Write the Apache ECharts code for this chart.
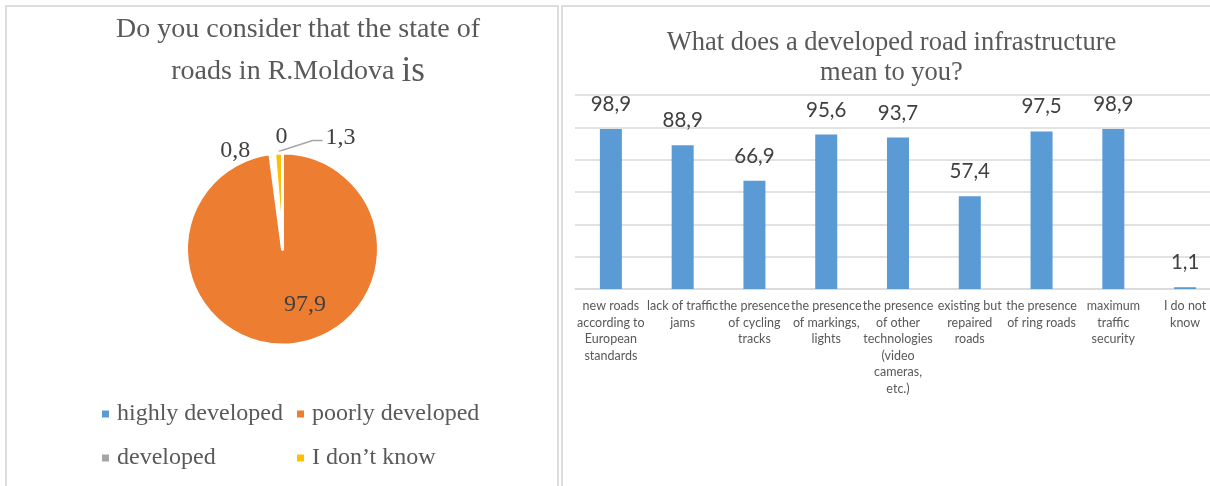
<!DOCTYPE html>
<html>
<head>
<meta charset="utf-8">
<script src="https://cdn.jsdelivr.net/npm/echarts@6/dist/echarts.min.js"></script>
<style>
  html, body { margin: 0; padding: 0; width: 1210px; height: 486px; overflow: hidden; background: #fff; }
  .panel { position: absolute; border: 2px solid #dedede; box-sizing: border-box; }
  #leftBox { left: 5px; top: 5px; width: 554px; height: 520px; }
  #rightBox { left: 561px; top: 5px; width: 700px; height: 520px; }
  #pie { position: absolute; left: 0; top: 0; width: 560px; height: 486px; }
  #bars { position: absolute; left: 560px; top: 0; width: 670px; height: 486px; }
</style>
</head>
<body>
<div class="panel" id="leftBox"></div>
<div class="panel" id="rightBox"></div>
<div id="pie"></div>
<div id="bars"></div>
<script>
// pie: state of roads
var pieNames = ['highly developed', 'poorly developed', 'developed', 'I don\u2019t know'];
var pieValues = [0.8, 97.9, 0, 1.3];
var pieColors = ['#ffffff', '#ed7d31', '#a5a5a5', '#ffc000'];
var legendColors = ['#5b9bd5', '#ed7d31', '#a5a5a5', '#ffc000'];

// bars: what a developed road infrastructure means
var barNames = [
    'new roads\naccording to\nEuropean\nstandards',
    'lack of traffic\njams',
    'the presence\nof cycling\ntracks',
    'the presence\nof markings,\nlights',
    'the presence\nof other\ntechnologies\n(video\ncameras,\netc.)',
    'existing but\nrepaired\nroads',
    'the presence\nof ring roads',
    'maximum\ntraffic\nsecurity',
    'I do not\nknow'
];
var barValues = [98.9, 88.9, 66.9, 95.6, 93.7, 57.4, 97.5, 98.9, 1.1];
var yMin = 0, yMax = 120, yStep = 20;

function comma(v) {
    return String(v).replace('.', ',');
}

var serif = 'Liberation Serif';
var sans = 'Lato';

// ---------- left chart ----------
var myChart1 = echarts.init(document.getElementById('pie'));

var pieData = [];
for (var i = 0; i < pieNames.length; i++) {
    var item = { name: pieNames[i], value: pieValues[i], itemStyle: { color: pieColors[i] } };
    if (i == 1) {
        item.label = { position: 'inside' };
    }
    if (i == 3) {
        item.labelLine = { show: true };
    }
    pieData.push(item);
}

var option1 = {
    animation: false,
    title: {
        text: 'Do you consider that the state of\nroads in R.Moldova {big|is}',
        left: 298,
        top: 10,
        textAlign: 'center',
        padding: 0,
        textStyle: {
            fontFamily: serif,
            fontSize: 28,
            fontWeight: 'normal',
            color: '#595959',
            lineHeight: 40,
            rich: {
                big: { fontFamily: serif, fontSize: 35, lineHeight: 44, color: '#595959' }
            }
        }
    },
    legend: {
        left: 102,
        top: 399,
        width: 400,
        padding: 0,
        icon: 'rect',
        itemWidth: 7,
        itemHeight: 7,
        itemGap: 14,
        itemStyle: { borderWidth: 0 },
        textStyle: {
            fontFamily: serif,
            fontSize: 24,
            color: '#595959',
            width: 166,
            lineHeight: 30,
            padding: [0, 0, 0, 3]
        },
        data: pieNames.map(function (n, k) {
            return { name: n, itemStyle: { color: legendColors[k] } };
        })
    },
    series: [{
        type: 'pie',
        center: [282.5, 249],
        radius: 96,
        startAngle: 94.7, // last slice ends at 12 o'clock
        clockwise: false,
        avoidLabelOverlap: false,
        itemStyle: { borderColor: '#ffffff', borderWidth: 3 },
        label: {
            show: true,
            position: 'outside',
            formatter: function (p) { return comma(p.value); },
            fontFamily: serif,
            fontSize: 24,
            color: '#404040'
        },
        labelLine: {
            show: false,
            lineStyle: { color: '#a6a6a6', width: 1.5 }
        },
        labelLayout: function (p) {
            var r = p.rect;
            var midX = r.x + r.width / 2;
            if (p.dataIndex == 0) {
                return { x: r.x - 18, y: r.y - 1, align: 'right', verticalAlign: 'middle' };
            }
            if (p.dataIndex == 1) {
                return { dx: 19, dy: 5 };
            }
            if (p.dataIndex == 2) {
                return { x: midX - 1, y: r.y - 15, align: 'center', verticalAlign: 'middle' };
            }
            if (p.dataIndex == 3) {
                return {
                    x: midX + 47,
                    y: r.y - 14,
                    align: 'left',
                    verticalAlign: 'middle',
                    labelLinePoints: [[midX, r.y], [midX + 34, r.y - 11], [midX + 44, r.y - 11]]
                };
            }
            return {};
        },
        emphasis: { disabled: true },
        data: pieData
    }]
};
myChart1.setOption(option1);

// ---------- right chart ----------
var myChart2 = echarts.init(document.getElementById('bars'));

var option2 = {
    animation: false,
    title: {
        text: 'What does a developed road infrastructure\nmean to you?',
        left: 331.5,
        top: 28,
        textAlign: 'center',
        padding: 0,
        textStyle: {
            fontFamily: serif,
            fontSize: 26.5,
            fontWeight: 'normal',
            color: '#595959',
            lineHeight: 30
        }
    },
    grid: { left: 15, right: 9, top: 95, bottom: 197, outerBoundsMode: 'none' },
    xAxis: {
        type: 'category',
        data: barNames,
        axisTick: { show: false },
        axisLine: { lineStyle: { color: '#d9d9d9', width: 1.5 } },
        axisLabel: {
            interval: 0,
            margin: 9,
            fontFamily: sans,
            fontSize: 12.5,
            lineHeight: 16.5,
            color: '#595959'
        }
    },
    yAxis: {
        type: 'value',
        min: yMin,
        max: yMax,
        interval: yStep,
        axisLabel: { show: false },
        axisLine: { show: false },
        axisTick: { show: false },
        splitLine: { lineStyle: { color: '#d9d9d9', width: 1.5 } }
    },
    series: [{
        type: 'bar',
        data: barValues,
        barWidth: 22,
        itemStyle: { color: '#5b9bd5' },
        label: {
            show: true,
            position: 'top',
            distance: 14,
            fontFamily: sans,
            fontSize: 20.5,
            color: '#404040',
            formatter: function (p) { return comma(p.value); }
        },
        emphasis: { disabled: true }
    }]
};
myChart2.setOption(option2);
</script>
</body>
</html>
